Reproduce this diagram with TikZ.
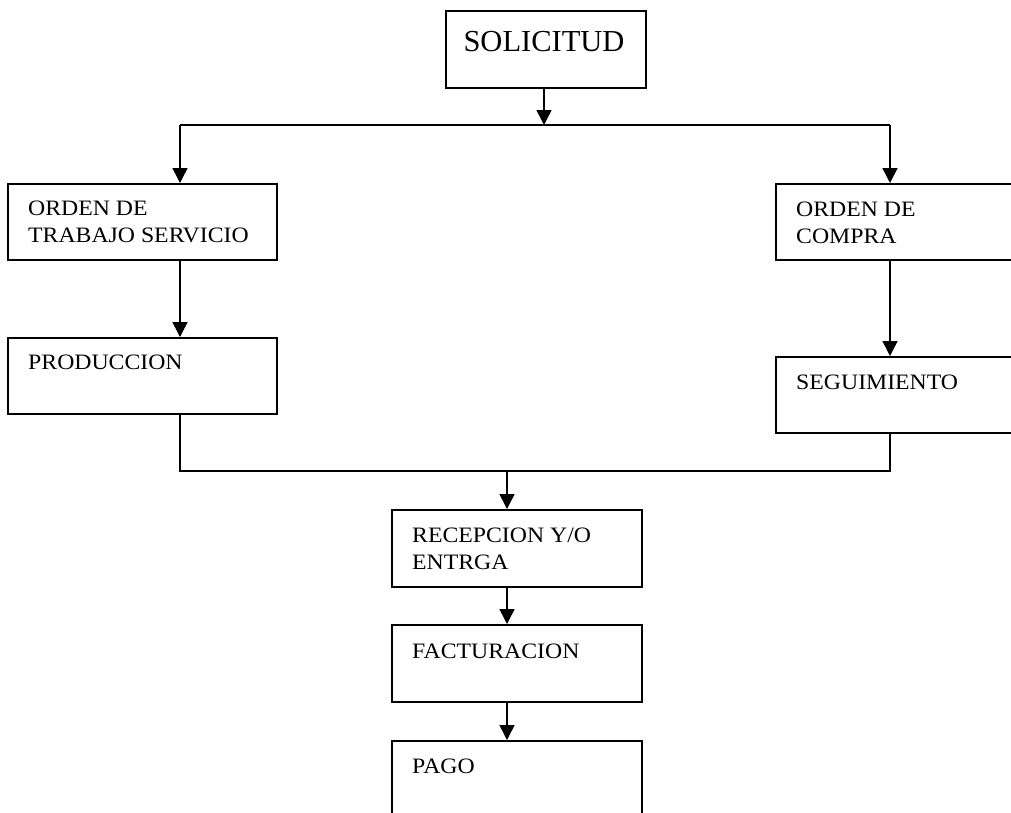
\documentclass[tikz,border=0pt]{standalone}
\usepackage{fontspec}
\setmainfont{Liberation Serif}
\newfontfamily\boxfont[FakeStretch=1.08]{Liberation Serif}
\usetikzlibrary{arrows.meta,calc}
\begin{document}
\begin{tikzpicture}[x=1pt,y=-1pt,
  box/.style={draw, line width=1.5pt, rectangle, inner sep=0pt, anchor=north west},
  lbl/.style={anchor=base west, inner sep=0pt, font=\boxfont\fontsize{22}{26.5}\selectfont, align=left},
  ln/.style={line width=1.5pt},
  arr/.style={ln, -{Triangle[width=15pt,length=15pt]}}]
\useasboundingbox (0,0) rectangle (1011,812);
\clip (0,0) rectangle (1011,812);

% boxes and their labels (two-line labels are placed by their last baseline)
\node[box, minimum width=200pt, minimum height=77pt] (sol) at (445,10) {};
\node[anchor=base, inner sep=0pt, font=\fontsize{30.5}{36}\selectfont] (soltxt) at (544,51) {SOLICITUD};

\node[box, minimum width=269pt, minimum height=76pt] (ots) at (7,183) {};
\node[lbl] (otstxt) at (28,242) {ORDEN DE\\TRABAJO SERVICIO};

\node[box, minimum width=269pt, minimum height=76pt] (prod) at (7,337) {};
\node[lbl] (prodtxt) at (28,369) {PRODUCCION};

\node[box, minimum width=300pt, minimum height=76pt] (oc) at (775,183) {};
\node[lbl] (octxt) at (796,243) {ORDEN DE\\COMPRA};

\node[box, minimum width=300pt, minimum height=76pt] (seg) at (775,356) {};
\node[lbl] (segtxt) at (796,389) {SEGUIMIENTO};

\node[box, minimum width=250pt, minimum height=77pt] (rec) at (391,509) {};
\node[lbl] (rectxt) at (412,569) {RECEPCION Y/O\\ENTRGA};

\node[box, minimum width=250pt, minimum height=77pt] (fac) at (391,624) {};
\node[lbl] (factxt) at (412,658) {FACTURACION};

\node[box, minimum width=250pt, minimum height=100pt] (pago) at (391,740) {};
\node[lbl] (pagotxt) at (412,773) {PAGO};

% branching and joining lines
\coordinate (bl) at (180,125);
\coordinate (br) at (890,125);
\coordinate (jl) at (180,471);
\coordinate (jr) at (890,471);
\coordinate (jm) at (507,471);

\draw[arr] (sol.south -| 544,0) -- (bl -| 544,0);
\draw[ln] (bl) -- (br);
\draw[arr] (bl) -- (bl |- ots.north);
\draw[arr] (br) -- (br |- oc.north);
\draw[arr] (bl |- ots.south) -- (bl |- prod.north);
\draw[arr] (br |- oc.south) -- (br |- seg.north);
\draw[ln] (bl |- prod.south) -- (jl) -- (jr) -- (br |- seg.south);
\draw[arr] (jm) -- (jm |- rec.north);
\draw[arr] (jm |- rec.south) -- (jm |- fac.north);
\draw[arr] (jm |- fac.south) -- (jm |- pago.north);
\end{tikzpicture}
\end{document}
